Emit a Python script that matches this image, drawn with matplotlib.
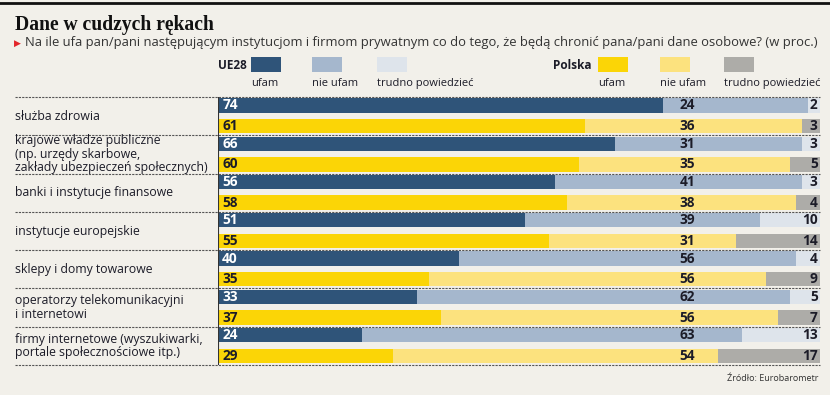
import matplotlib
matplotlib.use('Agg')
import matplotlib.pyplot as plt
from matplotlib.patches import Rectangle
from matplotlib.lines import Line2D
import numpy as np

categories = ['służba zdrowia',
              'krajowe władze publiczne\n(np. urzędy skarbowe,\nzakłady ubezpieczeń społecznych)',
              'banki i instytucje finansowe',
              'instytucje europejskie',
              'sklepy i domy towarowe',
              'operatorzy telekomunikacyjni\ni internetowi',
              'firmy internetowe (wyszukiwarki,\nportale społecznościowe itp.)']

ue_ufam = [74, 66, 56, 51, 40, 33, 24]
ue_nie = [24, 31, 41, 39, 56, 62, 63]
ue_trudno = [2, 3, 3, 10, 4, 5, 13]

pl_ufam = [61, 60, 58, 55, 35, 37, 29]
pl_nie = [36, 35, 38, 31, 56, 56, 54]
pl_trudno = [3, 5, 4, 14, 9, 7, 17]

legend_labels = ['ufam', 'nie ufam', 'trudno powiedzieć']

ue_colors = ['#2f5479', '#a5b7cd', '#dee4eb']
pl_colors = ['#fbd506', '#fce27e', '#adaca8']
bg = '#f2f0ea'
txt = '#1c1c28'

W, H = 830, 395
fig = plt.figure(figsize=(W / 100, H / 100), dpi=100, facecolor=bg)
plt.rcParams['font.family'] = ['Open Sans', 'DejaVu Sans']


def fx(px):
    return px / W


def fy(py):
    return 1 - py / H


# top rule
fig.add_artist(Line2D([0, 1], [fy(3.3), fy(3.3)], color='#111111', lw=2.0))

fig.text(fx(15), fy(30), 'Dane w cudzych rękach', family='Liberation Serif',
         fontweight='bold', fontsize=14.1, color='#111111', va='baseline')
fig.text(fx(14), fy(45.5), '▶', family='DejaVu Sans', fontsize=6.5, color='#e3262b', va='baseline')
fig.text(fx(25), fy(46), 'Na ile ufa pan/pani następującym instytucjom i firmom prywatnym co do tego, '
         'że będą chronić pana/pani dane osobowe? (w proc.)',
         fontsize=9.35, color='#333333', va='baseline')

# legend
def legend(name, name_x, xs, colors):
    fig.text(fx(name_x), fy(69), name, fontsize=8.5, fontweight='bold', color=txt,
             ha='right', va='baseline')
    for x, c, lab in zip(xs, colors, legend_labels):
        fig.add_artist(Rectangle((fx(x), fy(72)), fx(30), 15 / H, color=c, lw=0))
        fig.text(fx(x), fy(86), lab, fontsize=8.0, color=txt, va='baseline')


legend('UE28', 247, [251, 312, 377], ue_colors)
legend('Polska', 591, [598, 660, 724], pl_colors)

top, bottom = 97, 365
ax = fig.add_axes([fx(218), fy(bottom), fx(820) - fx(218), (bottom - top) / H])
ax.set_facecolor('none')
ax.set_xlim(0, 100)
n = len(categories)
ax.set_ylim(n, 0)
for s in ax.spines.values():
    s.set_visible(False)
ax.set_xticks([])
ax.set_yticks([])

y = np.arange(n)
h = 0.375
for off, vals, colors, first_col in [(0.22, (ue_ufam, ue_nie, ue_trudno), ue_colors, 'white'),
                                     (0.76, (pl_ufam, pl_nie, pl_trudno), pl_colors, txt)]:
    a, b, c = [np.array(v) for v in vals]
    ax.barh(y + off, a, height=h, color=colors[0], lw=0)
    ax.barh(y + off, b, left=a, height=h, color=colors[1], lw=0)
    ax.barh(y + off, c, left=a + b, height=h, color=colors[2], lw=0)
    for i in range(n):
        ax.text(0.7, i + off, str(a[i]), color=first_col, fontsize=9.8, fontweight='bold',
                va='center', ha='left')
        ax.text(78, i + off, str(b[i]), color=txt, fontsize=9.8, fontweight='bold',
                va='center', ha='center')
        ax.text(99.6, i + off, str(c[i]), color=txt, fontsize=9.8, fontweight='bold',
                va='center', ha='right')

left_frac = (15 - 218) / (820 - 218)
tr = ax.get_yaxis_transform()
for i, cat in enumerate(categories):
    ax.text(left_frac, i + 0.5, cat, transform=tr, fontsize=8.8, color=txt,
            va='center', ha='left', linespacing=1.05)
for i in range(n + 1):
    ax.plot([left_frac, 1], [i, i], transform=tr, clip_on=False, color='#555555',
            lw=0.8, ls=(0, (2, 1)))
ax.axvline(0, color='#333333', lw=0.8)

fig.text(fx(818), fy(381), 'Źródło: Eurobarometr', fontsize=6.5, color='#333333',
         ha='right', va='baseline')

fig.savefig('out.png', dpi=100, facecolor=bg)
